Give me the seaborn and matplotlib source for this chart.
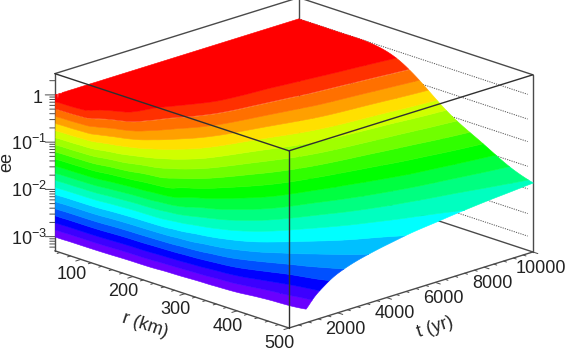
import numpy as np
import matplotlib
matplotlib.use("Agg")
import matplotlib.pyplot as plt
import matplotlib.tri as mtri
from matplotlib.transforms import Affine2D
from mpl_toolkits.mplot3d import proj3d
from mpl_toolkits.mplot3d.art3d import Poly3DCollection
import seaborn as sns

r_km = [50, 75, 100, 150, 200, 250, 300, 350, 400, 450, 500]
t_yr = [0, 25, 50, 100, 150, 200, 300, 400, 500, 700, 1000, 1500, 2000, 3000, 4000, 5000, 6000, 7000, 8000, 9000, 10000]

log_ee_r050 = [-3.1, 0, 0, 0, 0, 0, 0, 0, 0, 0, 0, 0, 0, 0, 0, 0, 0, 0, 0, 0, 0]
log_ee_r075 = [-3.6, -1.8, -0.1, 0, 0, 0, 0, 0, 0, 0, 0, 0, 0, 0, 0, 0, 0, 0, 0, 0, 0]
log_ee_r100 = [-5, -2.35, -1.34, -0.14, -0.08, -0.04, -0.02, -0.02, -0.01, 0, 0, 0, 0, 0, 0, 0, 0, 0, 0, 0, 0]
log_ee_r150 = [-5, -3.19, -2.7, -2.1, -1.64, -1.34, -0.9, -0.69, -0.53, -0.29, -0.13, -0.09, -0.06, -0.03, -0.03, -0.02, -0.01, -0.01, 0, 0, 0]
log_ee_r200 = [-5, -3.51, -3.19, -2.7, -2.26, -1.97, -1.54, -1.34, -1.2, -0.95, -0.74, -0.53, -0.4, -0.21, -0.13, -0.11, -0.09, -0.07, -0.05, -0.04, -0.03]
log_ee_r250 = [-5, -3.68, -3.39, -3.11, -2.76, -2.25, -1.91, -1.68, -1.49, -1.36, -1.22, -1, -0.86, -0.69, -0.57, -0.47, -0.39, -0.34, -0.3, -0.26, -0.22]
log_ee_r300 = [-5, -3.77, -3.51, -3.24, -3.09, -2.9, -2.36, -2.17, -2.04, -1.84, -1.66, -1.47, -1.34, -1.15, -1, -0.88, -0.8, -0.75, -0.71, -0.66, -0.62]
log_ee_r350 = [-5, -3.84, -3.59, -3.34, -3.2, -3.09, -2.86, -2.59, -2.4, -2.19, -1.99, -1.8, -1.67, -1.5, -1.39, -1.3, -1.23, -1.17, -1.12, -1.07, -1.03]
log_ee_r400 = [-5, -3.91, -3.68, -3.44, -3.31, -3.21, -3.07, -2.95, -2.81, -2.6, -2.37, -2.15, -2.02, -1.85, -1.72, -1.62, -1.54, -1.47, -1.42, -1.37, -1.33]
log_ee_r450 = [-5, -3.97, -3.75, -3.52, -3.39, -3.3, -3.17, -3.08, -3.01, -2.85, -2.68, -2.42, -2.28, -2.1, -1.99, -1.9, -1.83, -1.77, -1.72, -1.67, -1.63]
log_ee_r500 = [-5, -4.01, -3.8, -3.59, -3.46, -3.38, -3.25, -3.16, -3.09, -2.99, -2.81, -2.6, -2.45, -2.28, -2.17, -2.08, -2.02, -1.96, -1.91, -1.87, -1.83]

band_colors = ["#6a00ff", "#3c00ff", "#0000ff", "#0050ff", "#0090ff", "#00c0ff", "#00ffff",
               "#00ffc0", "#00ff80", "#00ff40", "#00ff00", "#30ff00", "#70ff00", "#a0ff00",
               "#d0ff00", "#ffe000", "#ffa000", "#ff7000", "#ff3000", "#ff0000"]
z_ticks = [-3, -2, -1, 0]
z_tick_labels = ["$10^{-3}$", "$10^{-2}$", "$10^{-1}$", "1"]
r_ticks = [100, 200, 300, 400, 500]
t_ticks = [2000, 4000, 6000, 8000, 10000]
wall_grid = [0.001, 0.003, 0.01, 0.03, 0.1, 0.3, 1.0]

sns.set_theme(style="white")
plt.rcParams.update({"font.family": "Liberation Sans", "mathtext.fontset": "custom",
                     "mathtext.rm": "Liberation Sans", "mathtext.default": "regular",
                     "text.color": "#222222"})
palette = sns.color_palette(band_colors)

R_MIN, R_MAX, T_MIN, T_MAX, Z_MIN, Z_MAX = 50, 500, 0, 10000, -3.3, 0.45
W, H = 566, 348
fig = plt.figure(figsize=(W / 100, H / 100), dpi=100)
ax = fig.add_axes([0, 0, 1, 1], projection="3d", computed_zorder=False)
ax.set_proj_type("ortho")
ax.view_init(elev=18.7, azim=-44.2)
ax.set_box_aspect((1, 1.013, 0.557))
ax.set_xlim(R_MIN, R_MAX); ax.set_ylim(T_MIN, T_MAX); ax.set_zlim(Z_MIN, Z_MAX)
ax.patch.set_alpha(0)

rows = [log_ee_r050, log_ee_r075, log_ee_r100, log_ee_r150, log_ee_r200, log_ee_r250,
        log_ee_r300, log_ee_r350, log_ee_r400, log_ee_r450, log_ee_r500]
Z = np.array(rows, float)
X, Y = np.meshgrid(r_km, t_yr, indexing="ij")
tri = mtri.Triangulation(X.ravel() / 500.0, np.sqrt(Y.ravel() / 10000.0))
smooth = mtri.CubicTriInterpolator(tri, Z.ravel(), kind="min_E")
tri_f, z_f = mtri.UniformTriRefiner(tri).refine_field(Z.ravel(), triinterpolator=smooth, subdiv=3)
z_f = np.minimum(z_f, 0.0)
lift = mtri.LinearTriInterpolator(tri_f, z_f)
step = 3.0 / 20
levels = [-3 + step * i for i in range(20)] + [0.6]
tmp = plt.figure()
cs = tmp.add_subplot().tricontourf(tri_f, z_f, levels=levels)
for i, path in enumerate(cs.get_paths()):
    col = palette[i]
    polys = []
    for p in path.to_polygons(closed_only=True):
        zz = np.asarray(lift(p[:, 0], p[:, 1]).filled(levels[i]))
        polys.append(np.column_stack([p[:, 0] * 500.0, p[:, 1] ** 2 * 10000.0, zz]))
    if polys:
        ax.add_collection3d(Poly3DCollection(polys, facecolors=col, edgecolors=col,
                                             linewidths=0.4, zorder=5))
plt.close(tmp)

for axis in (ax.xaxis, ax.yaxis, ax.zaxis):
    axis.set_pane_color((1, 1, 1, 0))
    axis.pane.set_edgecolor("none")
    axis.line.set_color("none")
    axis._axinfo["tick"].update(inward_factor=0.0, outward_factor=0.0)
    axis._axinfo["grid"].update(linewidth=0)
ax.grid(False)
ax.set_xticks(r_ticks); ax.set_xticklabels([str(v) for v in r_ticks])
ax.set_yticks(t_ticks); ax.set_yticklabels([str(v) for v in t_ticks])
ax.set_zticks(z_ticks); ax.set_zticklabels(z_tick_labels)
ax.zaxis.set_ticks_position("lower"); ax.zaxis.set_label_position("lower")
ax.tick_params(labelsize=13, colors="#222222", pad=0)
ax.set_xlabel("r (km)", fontsize=13, labelpad=8)
ax.set_ylabel("t (yr)", fontsize=13, labelpad=8)
ax.set_zlabel("ee", fontsize=13, labelpad=-6, rotation=90)

def nudge(text, dx, dy):
    """Shift a text by pixels from where the 3D axis puts it (dy up)."""
    tr = ax.transData + Affine2D().translate(dx, dy)
    text.set_transform(tr)
    text.set_transform = lambda *_: None
    text.get_transform = lambda: tr

for lab in ax.get_xticklabels():
    nudge(lab, 1, 4)
for lab in ax.get_yticklabels():
    nudge(lab, -2, 3)
for lab, v in zip(ax.get_zticklabels(), z_ticks):
    nudge(lab, 3.5, 5) if v == 0 else nudge(lab, -5, 8)
nudge(ax.xaxis.label, 11, 3)
nudge(ax.yaxis.label, -12, 2)
nudge(ax.zaxis.label, -10, 0)

EDGE = "#4a4a4a"
def seg(a, b, z, lw=1.0, c=EDGE, ls="-"):
    ax.plot([a[0], b[0]], [a[1], b[1]], [a[2], b[2]], color=c, lw=lw, zorder=z, ls=ls, clip_on=False)
c = lambda i, j, k: ((R_MIN, R_MAX)[i], (T_MIN, T_MAX)[j], (Z_MIN, Z_MAX)[k])
for a, b in [(c(0,1,0), c(1,1,0)), (c(0,1,0), c(0,1,1)), (c(0,0,1), c(0,1,1)), (c(0,1,1), c(1,1,1)),
             (c(0,0,0), c(1,0,0)), (c(1,0,0), c(1,1,0)), (c(0,0,0), c(0,0,1)), (c(1,1,0), c(1,1,1))]:
    seg(a, b, 2)
for a, b in [(c(0,0,1), c(1,0,1)), (c(1,0,1), c(1,1,1)), (c(1,0,0), c(1,0,1))]:
    seg(a, b, 8, c="#303030")
for g in wall_grid:
    lz = np.log10(g)
    seg((R_MIN, T_MAX, lz), (R_MAX - 10, T_MAX, lz), 1, lw=0.7, c="#555555", ls=(0, (1.2, 1.2)))
for v in np.arange(60, 501, 20):
    n = 210 if v in r_ticks else 120
    seg((v, T_MIN, Z_MIN), (v, T_MIN - n, Z_MIN), 2, lw=0.7)
for v in np.arange(400, 10001, 400):
    n = 9.5 if v in t_ticks else 5.5
    seg((R_MAX, v, Z_MIN), (R_MAX + n, v, Z_MIN), 2, lw=0.7)
for dec in np.arange(-4, 1):
    for m in range(1, 10):
        v = dec + np.log10(m)
        if Z_MIN <= v <= Z_MAX:
            a = 9.0 if m == 1 else 4.8
            seg((R_MIN, T_MIN, v), (R_MIN - a, T_MIN - a * 22.5, v), 2, lw=0.7)
ax.set_xlim(R_MIN, R_MAX); ax.set_ylim(T_MIN, T_MAX); ax.set_zlim(Z_MIN, Z_MAX)

def px(pt):
    ax.apply_aspect()
    x2, y2, _ = proj3d.proj_transform(pt[0], pt[1], pt[2], ax.get_proj())
    return ax.transData.transform((x2, y2))
p0, p1 = px(c(0,0,0)), px(c(1,1,0))
scale = (533 - 55) / (p1[0] - p0[0])
ax.set_position([0.5 - 0.5 * scale * min(W, H) / W, 0.5 - 0.5 * scale * min(W, H) / H,
                 scale * min(W, H) / W, scale * min(W, H) / H])
q0 = px(c(1,0,0))
dx, dy = (289 - q0[0]) / W, ((H - 328) - q0[1]) / H
pos = ax.get_position()
ax.set_position([pos.x0 + dx, pos.y0 + dy, pos.width, pos.height])

fig.savefig("out.png", dpi=100)
